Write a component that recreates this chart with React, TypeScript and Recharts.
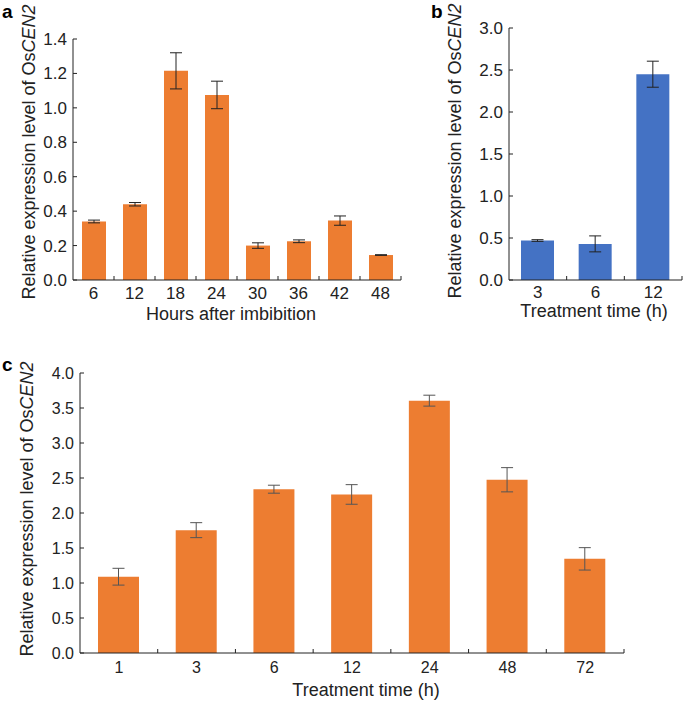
import React from 'react';
import { BarChart, Bar, XAxis, YAxis, ErrorBar, Label } from 'recharts';

// ---------------------------------------------------------------------------
// Data
// ---------------------------------------------------------------------------

const hoursA = ['6', '12', '18', '24', '30', '36', '42', '48'];
const valuesA = [0.34, 0.44, 1.215, 1.075, 0.2, 0.225, 0.345, 0.145];
const errA = [0.008, 0.01, 0.105, 0.08, 0.016, 0.008, 0.027, 0.002];
const ticksA = [0, 0.2, 0.4, 0.6, 0.8, 1.0, 1.2, 1.4];

const timesB = ['3', '6', '12'];
const valuesB = [0.47, 0.43, 2.45];
const errB = [0.01, 0.095, 0.155];
const ticksB = [0, 0.5, 1.0, 1.5, 2.0, 2.5, 3.0];

const timesC = ['1', '3', '6', '12', '24', '48', '72'];
const valuesC = [1.09, 1.755, 2.34, 2.265, 3.605, 2.475, 1.345];
const errC = [0.12, 0.107, 0.057, 0.14, 0.078, 0.173, 0.16];
const ticksC = [0, 0.5, 1.0, 1.5, 2.0, 2.5, 3.0, 3.5, 4.0];

const toRows = (cats: string[], vals: number[], errs: number[]) =>
  cats.map((cat, i) => ({ cat, value: vals[i], err: errs[i] }));

const FONT = 'Arial, "Liberation Sans", Helvetica, sans-serif';
const INK = '#222';
const ORANGE = '#ED7D31';
const BLUE = '#4472C4';

// ---------------------------------------------------------------------------
// Helpers
// ---------------------------------------------------------------------------

function CatTick(props: any) {
  const { x, payload, axisY, band, labelDy, fontSize } = props;
  return (
    <g>
      <line x1={x + band / 2} x2={x + band / 2} y1={axisY} y2={axisY - 4} stroke={INK} />
      <text x={x} y={axisY + labelDy} textAnchor="middle" fontSize={fontSize} fontFamily={FONT} fill={INK}>
        {payload.value}
      </text>
    </g>
  );
}

function YTitle({ x, cy, letter, lx, ly }: { x: number; cy: number; letter: string; lx: number; ly: number }) {
  return (
    <g>
      <text x={lx} y={ly} fontSize={19} fontWeight="bold" fontFamily={FONT} fill="#000">
        {letter}
      </text>
      <text
        x={x}
        y={cy}
        transform={`rotate(-90, ${x}, ${cy})`}
        textAnchor="middle"
        fontSize={18}
        fontFamily={FONT}
        fill={INK}
      >
        Relative expression level of Os<tspan fontStyle="italic">CEN2</tspan>
      </text>
    </g>
  );
}

function XTitle({ cx, y, text }: { cx: number; y: number; text: string }) {
  return (
    <text x={cx} y={y} textAnchor="middle" fontSize={18} fontFamily={FONT} fill={INK}>
      {text}
    </text>
  );
}

interface PanelProps {
  rows: { cat: string; value: number; err: number }[];
  ticks: number[];
  width: number;
  height: number;
  margin: { top: number; right: number; bottom: number; left: number };
  yWidth: number;
  xHeight: number;
  barSize: number;
  fill: string;
  errColor: string;
  tickFont: number;
  labelDy: number;
  xTitle: string;
  xTitlePos: { cx: number; y: number };
  yTitlePos: { x: number; cy: number };
  letter: string;
  letterPos: { x: number; y: number };
}

function Panel(p: PanelProps) {
  const plotW = p.width - p.margin.left - p.margin.right - p.yWidth;
  const band = plotW / p.rows.length;
  const axisY = p.height - p.margin.bottom - p.xHeight;
  const top = p.ticks[p.ticks.length - 1];
  return (
    <BarChart width={p.width} height={p.height} data={p.rows} margin={p.margin}>
      <XAxis
        dataKey="cat"
        height={p.xHeight}
        interval={0}
        axisLine={{ stroke: INK }}
        tickLine={false}
        tick={(t: any) => (
          <CatTick {...t} axisY={axisY} band={band} labelDy={p.labelDy} fontSize={p.tickFont} />
        )}
      >
        <Label content={() => <XTitle cx={p.xTitlePos.cx} y={p.xTitlePos.y} text={p.xTitle} />} />
      </XAxis>
      <YAxis
        width={p.yWidth}
        domain={[0, top]}
        ticks={p.ticks}
        interval={0}
        allowDataOverflow
        axisLine={{ stroke: INK }}
        tickLine={{ stroke: INK }}
        tickSize={-4}
        tickMargin={10}
        tick={{ fill: INK, fontSize: p.tickFont, fontFamily: FONT }}
        tickFormatter={(v: number) => v.toFixed(1)}
      >
        <Label
          content={() => (
            <YTitle
              x={p.yTitlePos.x}
              cy={p.yTitlePos.cy}
              letter={p.letter}
              lx={p.letterPos.x}
              ly={p.letterPos.y}
            />
          )}
        />
      </YAxis>
      <Bar dataKey="value" fill={p.fill} barSize={p.barSize} isAnimationActive={false}>
        <ErrorBar
          dataKey="err"
          direction="y"
          width={6}
          stroke={p.errColor}
          strokeWidth={1}
          isAnimationActive={false}
        />
      </Bar>
    </BarChart>
  );
}

// ---------------------------------------------------------------------------
// Figure
// ---------------------------------------------------------------------------

export default function App() {
  return (
    <div
      style={{
        position: 'absolute',
        left: 0,
        top: 0,
        width: 685,
        height: 702,
        background: '#fff',
        overflow: 'hidden',
      }}
    >
      <div style={{ position: 'absolute', left: 0, top: 0 }}>
        <Panel
          rows={toRows(hoursA, valuesA, errA)}
          ticks={ticksA}
          width={425}
          height={330}
          margin={{ top: 39, right: 24, bottom: 0, left: 0 }}
          yWidth={73}
          xHeight={50}
          barSize={24}
          fill={ORANGE}
          errColor={INK}
          tickFont={17}
          labelDy={19}
          xTitle="Hours after imbibition"
          xTitlePos={{ cx: 231, y: 320 }}
          yTitlePos={{ x: 35, cy: 152 }}
          letter="a"
          letterPos={{ x: 2, y: 18 }}
        />
      </div>
      <div style={{ position: 'absolute', left: 425, top: 0 }}>
        <Panel
          rows={toRows(timesB, valuesB, errB)}
          ticks={ticksB}
          width={260}
          height={330}
          margin={{ top: 28, right: 3, bottom: 0, left: 0 }}
          yWidth={84}
          xHeight={50}
          barSize={33}
          fill={BLUE}
          errColor={INK}
          tickFont={17}
          labelDy={18}
          xTitle="Treatment time (h)"
          xTitlePos={{ cx: 169, y: 317 }}
          yTitlePos={{ x: 36, cy: 151 }}
          letter="b"
          letterPos={{ x: 6, y: 18 }}
        />
      </div>
      <div style={{ position: 'absolute', left: 0, top: 340 }}>
        <Panel
          rows={toRows(timesC, valuesC, errC)}
          ticks={ticksC}
          width={685}
          height={362}
          margin={{ top: 33, right: 61, bottom: 0, left: 0 }}
          yWidth={80}
          xHeight={49}
          barSize={41}
          fill={ORANGE}
          errColor="#555"
          tickFont={16}
          labelDy={20}
          xTitle="Treatment time (h)"
          xTitlePos={{ cx: 366, y: 356 }}
          yTitlePos={{ x: 33, cy: 169 }}
          letter="c"
          letterPos={{ x: 2, y: 31 }}
        />
      </div>
    </div>
  );
}
